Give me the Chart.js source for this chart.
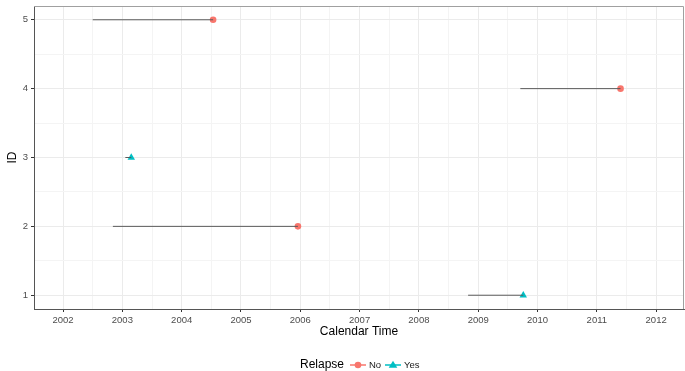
<!DOCTYPE html>
<html>
<head>
<meta charset="utf-8">
<script src="https://cdn.jsdelivr.net/npm/chart.js@4"></script>
<style>
  html, body { margin: 0; padding: 0; background: #fff; }
</style>
</head>
<body>
<canvas id="chart" width="685" height="371"></canvas>
<script>
// one row per subject
const ids = [1, 2, 3, 4, 5];
const startTimes = [2008.83, 2002.84, 2003.05, 2009.71, 2002.50];
const endTimes = [2009.76, 2005.96, 2003.15, 2011.40, 2004.53];
const relapse = ["Yes", "No", "Yes", "No", "No"];
const xTicks = [2002, 2003, 2004, 2005, 2006, 2007, 2008, 2009, 2010, 2011, 2012];
const yTicks = [1, 2, 3, 4, 5];

const colNo = "#F8766D";
const colYes = "#00BFC4";
const font = "'Liberation Sans', Arial, sans-serif";

var datasets = [];
for (i = 0; i < ids.length; i++) {
  datasets.push({
    type: "line",
    data: [{x: startTimes[i], y: ids[i]}, {x: endTimes[i], y: ids[i]}],
    borderColor: "#5a5a5a",
    borderWidth: 1,
    pointRadius: 0,
    fill: false
  });
}
function endPoints(status) {
  var pts = [];
  for (i = 0; i < ids.length; i++) {
    if (relapse[i] == status) pts.push({x: endTimes[i], y: ids[i]});
  }
  return pts;
}
datasets.push({label: "No", data: endPoints("No"), pointStyle: "circle", pointRadius: 3.3,
  backgroundColor: colNo, borderColor: colNo, borderWidth: 0});
datasets.push({label: "Yes", data: endPoints("Yes"), pointStyle: "triangle", pointRadius: 4.3,
  backgroundColor: colYes, borderColor: colYes, borderWidth: 0});

function withMinor(list) {
  var out = [];
  list.forEach((v, k) => {
    out.push({value: v});
    if (k < list.length - 1) out.push({value: v + 0.5});
  });
  return out;
}
const isMajor = (v) => Math.abs(v - Math.round(v)) < 1e-6;

const frame = {
  id: "frame",
  afterDraw(chart) {
    const a = chart.chartArea, c = chart.ctx;
    c.save();
    c.strokeStyle = "#a0a0a0";
    c.lineWidth = 1;
    c.beginPath();
    c.moveTo(a.left, a.top + 0.5);
    c.lineTo(a.right - 0.5, a.top + 0.5);
    c.lineTo(a.right - 0.5, a.bottom);
    c.stroke();
    // legend
    const y = 365;
    c.textBaseline = "middle";
    c.fillStyle = "#000";
    c.font = "12px " + font;
    c.textAlign = "left";
    c.fillText("Relapse", 300, y);
    c.font = "9.5px " + font;
    // No key
    c.strokeStyle = colNo; c.lineWidth = 1.5;
    c.beginPath(); c.moveTo(350, y); c.lineTo(366, y); c.stroke();
    c.fillStyle = colNo;
    c.beginPath(); c.arc(358, y, 3.3, 0, Math.PI * 2); c.fill();
    c.fillStyle = "#1a1a1a";
    c.fillText("No", 369, y);
    // Yes key
    c.strokeStyle = colYes;
    c.beginPath(); c.moveTo(385, y); c.lineTo(401, y); c.stroke();
    c.fillStyle = colYes;
    c.beginPath(); c.moveTo(393, y - 4.3); c.lineTo(397.3, y + 2.8); c.lineTo(388.7, y + 2.8); c.closePath(); c.fill();
    c.fillStyle = "#1a1a1a";
    c.fillText("Yes", 404, y);
    c.restore();
  }
};

const chart = new Chart(document.getElementById("chart"), {
  type: "scatter",
  data: {datasets: datasets},
  plugins: [frame],
  options: {
    responsive: false,
    animation: false,
    layout: {autoPadding: false, padding: {top: 6, right: 1, bottom: 31, left: 0}},
    plugins: {legend: {display: false}, tooltip: {enabled: false}},
    scales: {
      x: {
        type: "linear",
        min: 2001.51,
        max: 2012.47,
        afterBuildTicks: (s) => { s.ticks = withMinor(xTicks); },
        afterFit: (s) => { s.height = 31; s.paddingLeft = 0; s.paddingRight = 0; },
        ticks: {
          autoSkip: false, maxRotation: 0, padding: 3,
          color: "#4d4d4d", font: {family: font, size: 9.5},
          callback: (v) => isMajor(v) ? String(v) : ""
        },
        grid: {
          color: (c) => isMajor(c.tick.value) ? "#ebebeb" : "#f4f4f4",
          tickColor: (c) => isMajor(c.tick.value) ? "#333" : "rgba(0,0,0,0)",
          tickLength: 3
        },
        border: {color: "#555", width: 1},
        title: {display: true, text: "Calendar Time", color: "#000",
          font: {family: font, size: 12}, padding: {top: 0, bottom: 1}}
      },
      y: {
        type: "linear",
        min: 0.8,
        max: 5.2,
        afterBuildTicks: (s) => { s.ticks = withMinor(yTicks); },
        afterFit: (s) => { s.width = 34; s.paddingTop = 0; s.paddingBottom = 0; },
        ticks: {
          autoSkip: false, padding: 3,
          color: "#4d4d4d", font: {family: font, size: 9.5},
          callback: (v) => isMajor(v) ? String(v) : ""
        },
        grid: {
          color: (c) => isMajor(c.tick.value) ? "#ebebeb" : "#f4f4f4",
          tickColor: (c) => isMajor(c.tick.value) ? "#333" : "rgba(0,0,0,0)",
          tickLength: 3
        },
        border: {color: "#555", width: 1},
        title: {display: true, text: "ID", color: "#000",
          font: {family: font, size: 12}, padding: {top: 5, bottom: 0}}
      }
    }
  }
});
</script>
</body>
</html>
